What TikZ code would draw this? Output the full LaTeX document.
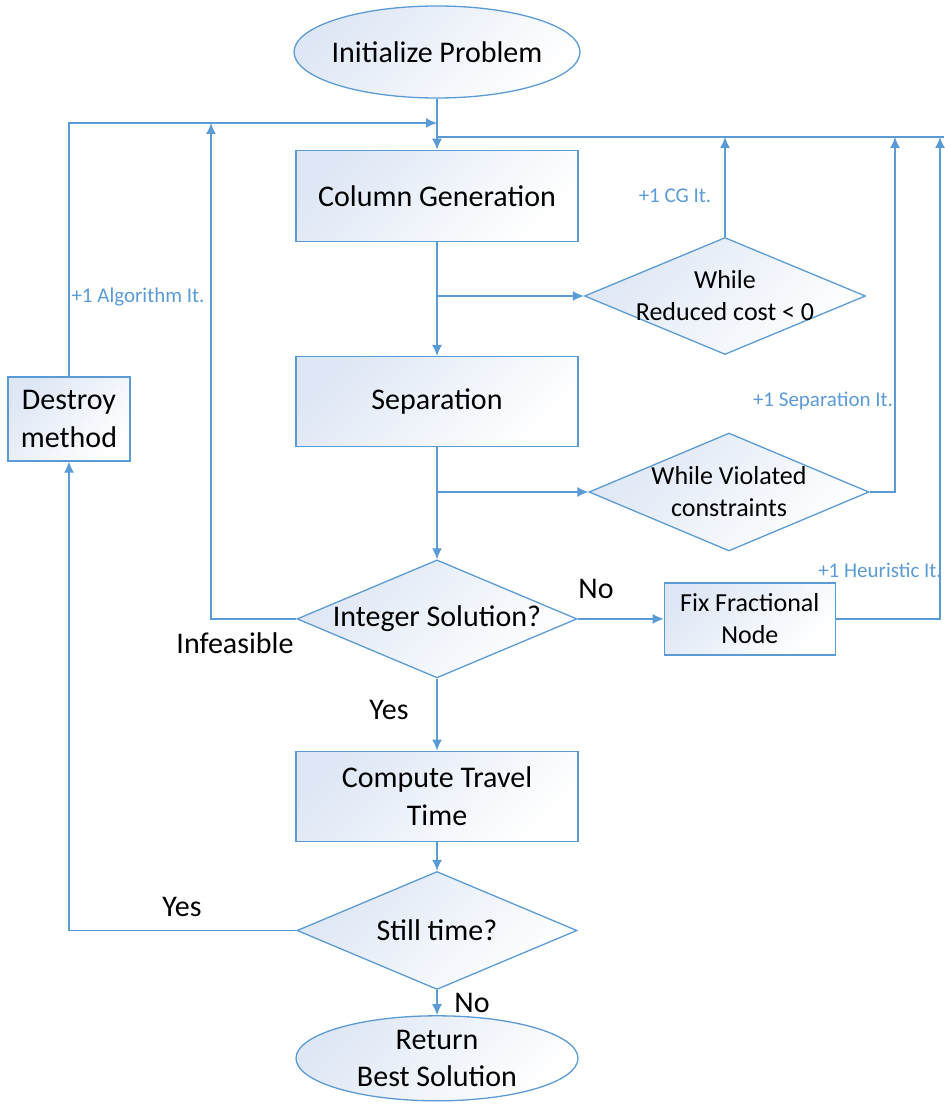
\documentclass[tikz,border=0pt]{standalone}
\usepackage{fontspec}
\setmainfont{Carlito}
\usepackage{tikz}
\usetikzlibrary{positioning}
\usetikzlibrary{shapes.geometric,arrows.meta}
\definecolor{flowblue}{RGB}{91,155,213}
\definecolor{flowfill}{RGB}{222,231,245}
\tikzset{basic/.style={draw=flowblue,line width=1.3pt,top color=flowfill,bottom color=white,shading angle=45,text=black,align=center}}
\tikzset{terminal/.style={basic,ellipse,inner sep=-15pt,font=\fontsize{30}{37}\selectfont}}
\tikzset{process/.style={basic,rectangle,inner sep=2pt,font=\fontsize{30}{38}\selectfont}}
\tikzset{decision/.style={basic,diamond,aspect=2.35,inner sep=-15pt,minimum width=280pt,minimum height=118pt,font=\fontsize{30}{36}\selectfont}}
\tikzset{smalltext/.style={font=\fontsize{26}{32}\selectfont}}
\tikzset{itlabel/.style={text=flowblue,inner sep=0pt,font=\fontsize{21}{25}\selectfont}}
\tikzset{answer/.style={inner sep=0pt,font=\fontsize{30}{36}\selectfont}}
\tikzstyle{arrow}=[draw=flowblue, line width=1.3pt, -{Latex[length=11pt,width=10pt]}]
\tikzstyle{line}=[draw=flowblue, line width=1.3pt]

\begin{document}
\begin{tikzpicture}[x=1pt,y=-1pt]
        \useasboundingbox (0,0) rectangle (944,1107);
        \node[terminal,minimum width=286pt,minimum height=92pt] (init) at (437,52) {Initialize Problem};
        \node[process,minimum width=282pt,minimum height=91pt,below=51pt of init] (cg) {Column Generation};
            \path[arrow] (init) -- (cg);
        \node[process,minimum width=282pt,minimum height=90pt,below=114pt of cg] (sep) {Separation};
            \path[arrow] (cg) -- (sep);
        \node[decision,below=112pt of sep] (intsol) {Integer Solution?};
            \path[arrow] (sep) -- (intsol);
        \node[process,minimum width=282pt,minimum height=90pt,below=72pt of intsol] (travel) {Compute Travel\\Time};
            \path[arrow] (intsol) -- (travel);
        \node[decision,below=29pt of travel] (still) {Still time?};
            \path[arrow] (travel) -- (still);
        \node[terminal,minimum width=282pt,minimum height=85pt,below=25pt of still] (ret) {Return\\Best Solution};
            \path[arrow] (still) -- (ret);

        \node[decision,smalltext,minimum width=281pt,minimum height=117pt] (redcost) at (725,296) {While\\Reduced cost < 0};
            \path[arrow] (cg.south |- redcost.west) -- (redcost.west);
        \node[decision,smalltext] (violated) at (729,492) {While Violated\\constraints};
            \path[arrow] (sep.south |- violated.west) -- (violated.west);
        \node[process,smalltext,inner sep=1pt,minimum width=171pt,minimum height=72pt,right=86pt of intsol] (fix) {Fix Fractional\\Node};
            \path[arrow] (intsol.east) -- (fix.west);
        \node[process,inner sep=1pt,minimum width=122pt,minimum height=84pt] (destroy) at (69,419) {Destroy\\method};
            \path[arrow] (still.west) -| (destroy.south);

        \coordinate (merge) at (437,137);
        \coordinate (rightend) at (944,137);
        \coordinate (sepup) at (895,137);
        \coordinate (heurup) at (940,137);
        \coordinate (restart) at (437,123);
        \coordinate (infup) at (211,123);
            \path[line] (merge) -- (rightend);
            \path[arrow] (redcost.north) -- (redcost.north |- merge);
            \path[arrow] (violated.east) -| (sepup);
            \path[arrow] (fix.east) -| (heurup);
            \path[arrow] (intsol.west) -| (infup);
            \path[arrow] (destroy.north) |- (restart);

        \node[itlabel] (cglabel) at (675,196) {+1 CG It.};
        \node[itlabel] (seplabel) at (823,401) {+1 Separation It.};
        \node[itlabel] (heurlabel) at (880,570) {+1 Heuristic It.};
        \node[itlabel] (algolabel) at (138,297) {+1 Algorithm It.};
        \node[answer] (nofix) at (596,589) {No};
        \node[answer] (infeas) at (235,643) {Infeasible};
        \node[answer] (yestravel) at (389,710) {Yes};
        \node[answer] (yesdestroy) at (182,907) {Yes};
        \node[answer] (noreturn) at (472,1003) {No};
    \end{tikzpicture}
\end{document}
